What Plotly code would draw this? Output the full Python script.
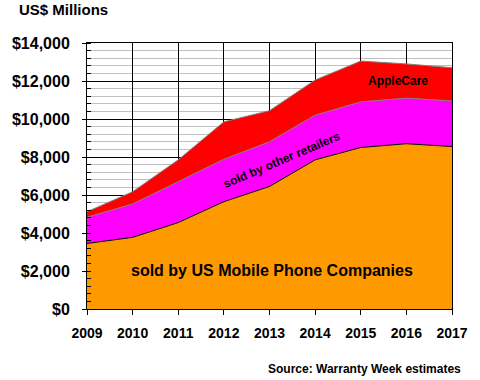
import plotly.graph_objects as go

years = [2009, 2010, 2011, 2012, 2013, 2014, 2015, 2016, 2017]
us_mobile = [3450, 3770, 4550, 5650, 6450, 7850, 8500, 8700, 8550]
other_retailers = [1380, 1760, 2150, 2230, 2350, 2350, 2400, 2400, 2400]
applecare = [290, 640, 1150, 1970, 1640, 1850, 2150, 1800, 1750]
y_ticks = [0, 2000, 4000, 6000, 8000, 10000, 12000, 14000]
y_tick_labels = ["$0", "$2,000", "$4,000", "$6,000", "$8,000", "$10,000", "$12,000", "$14,000"]

FONT = "Liberation Sans, Arial, sans-serif"

fig = go.Figure()
fig.add_trace(go.Scatter(x=years, y=us_mobile, stackgroup="s", mode="lines",
                         line=dict(color="black", width=1),
                         fillcolor="#FF9900", name="sold by US Mobile Phone Companies"))
fig.add_trace(go.Scatter(x=years, y=other_retailers, stackgroup="s", mode="lines",
                         line=dict(color="#808080", width=1),
                         fillcolor="#FF00FF", name="sold by other retailers"))
fig.add_trace(go.Scatter(x=years, y=applecare, stackgroup="s", mode="lines",
                         line=dict(color="#808080", width=1),
                         fillcolor="#FF0000", name="AppleCare"))

fig.update_layout(
    width=480, height=380,
    margin=dict(l=79, r=23, t=43, b=71),
    paper_bgcolor="white", plot_bgcolor="white",
    showlegend=False,
    font=dict(family=FONT, color="black"),
    xaxis=dict(range=[2009, 2017], tickmode="array", tickvals=years,
               ticktext=[f"<b>{y}</b>" for y in years],
               tickfont=dict(size=14, family=FONT),
               showgrid=True, gridcolor="black", gridwidth=1,
               ticks="outside", ticklen=5, tickcolor="black",
               ticklabelstandoff=6,
               showline=True, linecolor="black", linewidth=1, mirror=True,
               zeroline=False),
    yaxis=dict(range=[0, 14000], tickmode="array", tickvals=y_ticks,
               ticktext=[f"<b>{t}</b>" for t in y_tick_labels],
               tickfont=dict(size=16, family=FONT),
               showgrid=True, gridcolor="black", gridwidth=1,
               ticks="outside", ticklen=4, tickcolor="black",
               ticklabelstandoff=9,
               minor=dict(dtick=400, showgrid=True, gridcolor="#C0C0C0", gridwidth=1,
                          ticks="inside", ticklen=4, tickcolor="black"),
               showline=True, linecolor="black", linewidth=1, mirror=True,
               zeroline=False),
)

fig.add_annotation(text="<b>US$ Millions</b>", xref="paper", yref="paper",
                   x=-72/378, y=1 + 33.5/266, xanchor="left", yanchor="middle",
                   showarrow=False, font=dict(size=15, family=FONT))
fig.add_annotation(text="<b>sold by US Mobile Phone Companies</b>", x=2013.05, y=2050,
                   showarrow=False, font=dict(size=16, family=FONT))
fig.add_annotation(text="<b>sold by other retailers</b>", x=2013.27, y=7840, textangle=-23,
                   showarrow=False, font=dict(size=12, family=FONT))
fig.add_annotation(text="<b>AppleCare</b>", x=2015.81, y=12000,
                   showarrow=False, font=dict(size=12, family=FONT))
fig.add_annotation(text="<b>Source: Warranty Week estimates</b>", xref="paper", yref="paper",
                   x=(468 - 79) / 378, y=-60/266, xanchor="right", yanchor="middle",
                   showarrow=False, font=dict(size=12, family=FONT))

fig.write_html("out.html", config={"displayModeBar": False},
               post_script="document.body.style.margin='0';")
